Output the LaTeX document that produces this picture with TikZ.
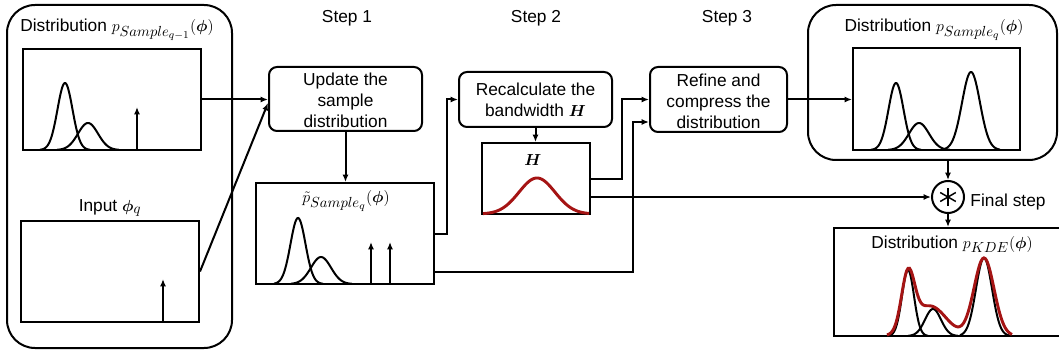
\documentclass[tikz,border=0pt]{standalone}
\usepackage{fontspec}
\setmainfont{Liberation Sans}
\usepackage{amsmath}
\usepackage{bm}
\DeclareMathSizes{13}{13}{10.5}{8.5}
\usetikzlibrary{arrows.meta,fit,calc}
\definecolor{kred}{RGB}{165,20,20}
\begin{document}
\begin{tikzpicture}[x=0.75pt,y=-0.75pt,
  line width=1.5pt,
  font=\fontsize{13}{15.8}\selectfont,
  declare function={g(\x,\m,\s)=exp(-((\x-\m)/\s)*((\x-\m)/\s)/2);},
  arr/.style={-{Latex[length=5.5pt,width=4.5pt]}},
  frame/.style={draw, inner sep=0pt, fit={#1}},
  rbox/.style={draw, rounded corners=6pt, inner sep=0pt, fit={#1}},
  bigbox/.style={draw, rounded corners=21pt, inner sep=0pt, fit={#1}},
  boxtext/.style={align=center, inner sep=0pt},
  curve/.style={line width=1.5pt, smooth, samples=70},
  redcurve/.style={draw=kred, line width=2.2pt, smooth, samples=90}
]
\useasboundingbox (0,0) rectangle (1059,356);
\clip (0,0) rectangle (1059,356);

% ---------- left group ----------
\node[bigbox={(7,5) (232,348)}] (lout) {};
\node (tleft) at (117,30) {Distribution $p_{Sample_{q-1}}(\bm{\phi})$};
\node[frame={(23,49) (201,150)}] (box1) {};
\draw[curve] plot[domain=40:90] (\x,{150-67*g(\x,65,7.5)});
\draw[curve] plot[domain=57:119] (\x,{150-27*g(\x,88,10)});
\draw[arr] (137,150) -- (137,107);

\node (tinput) at (110,208) {Input $\bm{\phi}_q$};
\node[frame={(21,221) (199,322)}] (inp) {};
\draw[arr] (163,322) -- (163,279);

% ---------- step labels ----------
\node (s1) at (347,18) {Step 1};
\node (s2) at (536,18) {Step 2};
\node (s3) at (727,18) {Step 3};

% ---------- step 1 ----------
\node[rbox={(269,67) (422,131)}] (update) {};
\node[boxtext] (tupdate) at ($(update.center)+(0,1.5)$) {Update the\\sample\\distribution};
\node[frame={(256,183) (434,284)}] (ptilde) {};
\node (tpt) at (346,201) {$\tilde{p}_{Sample_q}(\bm{\phi})$};
\draw[curve] plot[domain=274:323] (\x,{284-66*g(\x,298,7.5)});
\draw[curve] plot[domain=291:352] (\x,{284-27*g(\x,321,10)});
\draw[arr] (371,284) -- (371,242);
\draw[arr] (390,284) -- (390,242);

% ---------- step 2 ----------
\node[rbox={(459,72) (612,127)}] (recalc) {};
\node[boxtext] (trecalc) at ($(recalc.center)+(0,0.5)$) {Recalculate the\\bandwidth $\bm{H}$};
\node[frame={(482,143) (590,214)}] (hbox) {};
\node (th) at (533,160) {$\bm{H}$};
\draw[redcurve] plot[domain=483:589] (\x,{214-36*g(\x,537,18)});

% ---------- step 3 ----------
\node[rbox={(650,67) (787,132)}] (refine) {};
\node[boxtext] (trefine) at ($(refine.center)+(0,1.5)$) {Refine and\\compress the\\distribution};

% ---------- right group ----------
\node[bigbox={(808,5) (1057,160)}] (rout) {};
\node (tright) at (934,30) {Distribution $p_{Sample_q}(\bm{\phi})$};
\node[frame={(853,48) (1020,150)}] (rin) {};
\draw[curve] plot[domain=871:921] (\x,{150-67*g(\x,896,7.5)});
\draw[curve] plot[domain=888:950] (\x,{150-27*g(\x,919,10)});
\draw[curve] plot[domain=942:1000] (\x,{150-78*g(\x,971,9)});

% ---------- final step ----------
\node[draw, circle, minimum size=24pt, inner sep=0pt] (circ) at (948,197) {};
\foreach \a in {90,30,150}
  \draw[line width=1.1pt] ([shift={(\a:9)}]circ.center) -- ([shift={(\a+180:9)}]circ.center);
\node[anchor=west] (tfinal) at (965,202) {Final step};

\node[frame={(834,228) (1066,336)}] (kde) {};
\node (tkde) at (952,244) {Distribution $p_{KDE}(\bm{\phi})$};
\draw[curve] plot[domain=889:928] (\x,{336-66*g(\x,908,6)});
\draw[curve] plot[domain=908:958] (\x,{336-27*g(\x,933,8)});
\draw[curve] plot[domain=960:1009] (\x,{336-78*g(\x,984,8)});
\draw[redcurve] plot[domain=887:1012] (\x,{336-56*g(\x,908,6.5)-30*g(\x,930,16)-78*g(\x,984,10)});

% ---------- connectors ----------
\draw[arr] (box1.east) -- (box1.east -| update.west);
\draw[arr] (inp.east) -- ($(update.west)+(0,4)$);
\draw[arr] (update.south) -- (update.south |- ptilde.north);
\draw[arr] ($(ptilde.south east)+(0,-51)$) -- ++(12,0) |- (recalc.west);
\draw[arr] ($(ptilde.south east)+(0,-13)$) -- ++(198,0) |- ($(refine.west)+(0,22.5)$);
\draw[arr] (recalc.south) -- (recalc.south |- hbox.north);
\draw[arr] (hbox.east) -- ++(31,0) |- (refine.west);
\draw[arr] (hbox.east |- circ.west) -- (circ.west);
\draw[arr] (refine.east) -- (refine.east -| rin.west);
\draw[arr] (circ.north |- rout.south) -- (circ.north);
\draw[arr] (circ.south) -- (circ.south |- kde.north);
\end{tikzpicture}
\end{document}
